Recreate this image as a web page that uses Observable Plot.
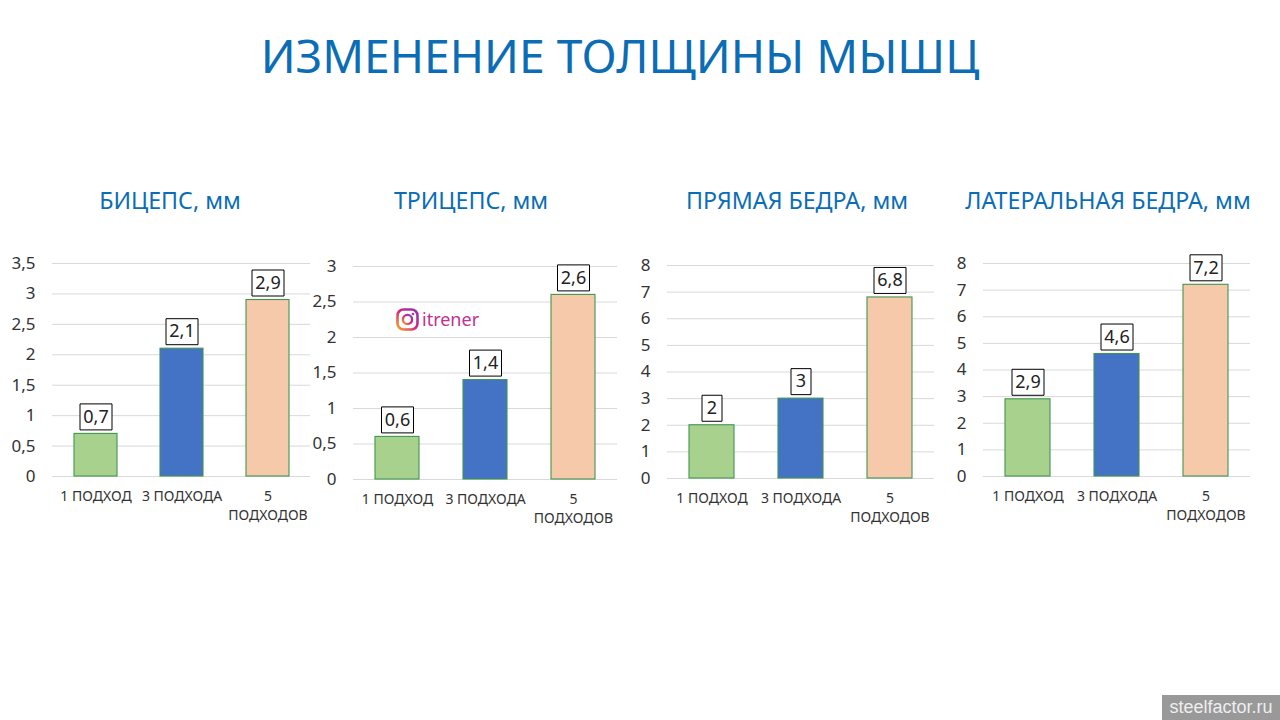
<!DOCTYPE html>
<html lang="ru"><head><meta charset="utf-8">
<script src="https://cdn.jsdelivr.net/npm/d3@7"></script>
<script src="https://cdn.jsdelivr.net/npm/@observablehq/plot@0.6"></script>
<style>
html,body{margin:0;padding:0;background:#fff;width:1280px;height:720px;overflow:hidden;font-family:"Noto Sans",sans-serif}
#page{position:relative;width:1280px;height:720px}
#page svg.chart{position:absolute;overflow:visible}
.t{position:absolute;white-space:nowrap;transform:translateX(-50%);color:#0b6db5}
#main{left:620px;top:22px;font-size:46.2px;line-height:68px}
.sub{font-size:23.2px;line-height:32px;top:184px}
#ig{position:absolute;left:396px;top:307px;display:flex;align-items:center;gap:3px;color:#c2308f;font-size:18px;line-height:24px}
#wm{position:absolute;left:1162px;top:695px;width:118px;height:25px;background:#999;color:#eee;font:normal 18px/25px "Liberation Sans",sans-serif;text-align:center}
</style></head><body><div id="page">
<div id="main" class="t">ИЗМЕНЕНИЕ ТОЛЩИНЫ МЫШЦ</div>
<div id="ig"><svg width="23" height="23" viewBox="0 0 23 23"><defs><linearGradient id="g" x1="0" y1="1" x2="1" y2="0"><stop offset="0" stop-color="#f5a623"/><stop offset=".5" stop-color="#d6247c"/><stop offset="1" stop-color="#8a3ab9"/></linearGradient></defs><rect x="1.5" y="1.5" width="20" height="20" rx="6" fill="none" stroke="url(#g)" stroke-width="2.6"/><circle cx="11.5" cy="11.5" r="4.6" fill="none" stroke="url(#g)" stroke-width="2.4"/><circle cx="17" cy="6" r="1.3" fill="#a03aa8"/></svg><span>itrener</span></div>
<div id="wm">steelfactor.ru</div>
<script>
const categories = ["1 ПОДХОД", "3 ПОДХОДА", "5\nПОДХОДОВ"];
const titles = ["БИЦЕПС, мм", "ТРИЦЕПС, мм", "ПРЯМАЯ БЕДРА, мм", "ЛАТЕРАЛЬНАЯ БЕДРА, мм"];
const bicepsValues = [0.7, 2.1, 2.9];
const tricepsValues = [0.6, 1.4, 2.6];
const rectusValues = [2, 3, 6.8];
const lateralValues = [2.9, 4.6, 7.2];
const halfStepTicks35 = [0, 0.5, 1, 1.5, 2, 2.5, 3, 3.5];
const halfStepTicks3 = [0, 0.5, 1, 1.5, 2, 2.5, 3];
const unitTicks8 = [0, 1, 2, 3, 4, 5, 6, 7, 8];
const barColors = ["#a9d18e", "#4472c4", "#f6c9aa"];

const series = [bicepsValues, tricepsValues, rectusValues, lateralValues];
const yTicks = [halfStepTicks35, halfStepTicks3, unitTicks8, unitTicks8];
// frame of each panel on the page: left, right, top, bottom of the plot area
const frames = [[52,310,263,476],[353,617,266,479],[667,934,265,478],[983,1250,263,476]];
const titleCentres = [170,471,797,1108];
const comma = d => String(d).replace(".", ",");
const box = (w, h) => ({draw(c){c.moveTo(-w/2,-h/2);c.lineTo(w/2,-h/2);c.lineTo(w/2,h/2);c.lineTo(-w/2,h/2);c.closePath();}});
const page = document.getElementById("page");

series.forEach((values, i) => {
  const [l, r, t, b] = frames[i];
  const rows = categories.map((c, j) => ({c, v: values[j], label: comma(values[j])}));
  const pad = {left: 50, right: 8, top: 10, bottom: 60};
  const boxStyle = {x: "c", y: "v", r: 5, fill: "#fff", stroke: "#000", strokeWidth: 1, strokeLinejoin: "miter", dy: -17};
  const svg = Plot.plot({
    width: r - l + pad.left + pad.right,
    height: b - t + pad.top + pad.bottom,
    marginLeft: pad.left, marginRight: pad.right, marginTop: pad.top, marginBottom: pad.bottom,
    style: {background: "transparent", fontFamily: "'Noto Sans',sans-serif", overflow: "visible"},
    x: {domain: categories, paddingInner: 0.5, paddingOuter: 0.25, align: 0.5, label: null},
    y: {domain: [0, yTicks[i][yTicks[i].length - 1]], label: null},
    marks: [
      Plot.ruleY(yTicks[i], {stroke: "#d9d9d9", strokeWidth: 1, strokeOpacity: 1}),
      Plot.barY(rows, {x: "c", y: "v", fill: (d) => barColors[categories.indexOf(d.c)], stroke: "#3f9650", strokeWidth: 1.1}),
      Plot.axisY({ticks: yTicks[i], tickFormat: comma, tickSize: 0, tickPadding: 17, fontSize: 17, color: "#333", label: null, anchor: "left"}),
      Plot.axisX({tickSize: 0, tickPadding: 11, fontSize: 14, color: "#333", label: null, lineHeight: 1.35}),
      Plot.dot(rows.filter(d => d.label.length > 1), {...boxStyle, symbol: box(32, 26)}),
      Plot.dot(rows.filter(d => d.label.length === 1), {...boxStyle, symbol: box(20, 26)}),
      Plot.text(rows, {x: "c", y: "v", text: "label", fontSize: 18, fill: "#222", dy: -17})
    ]
  });
  svg.classList.add("chart");
  svg.style.left = (l - pad.left) + "px";
  svg.style.top = (t - pad.top) + "px";
  page.appendChild(svg);
  const h = document.createElement("div");
  h.className = "t sub";
  h.style.left = titleCentres[i] + "px";
  h.textContent = titles[i];
  page.appendChild(h);
});
</script>
</div></body></html>
